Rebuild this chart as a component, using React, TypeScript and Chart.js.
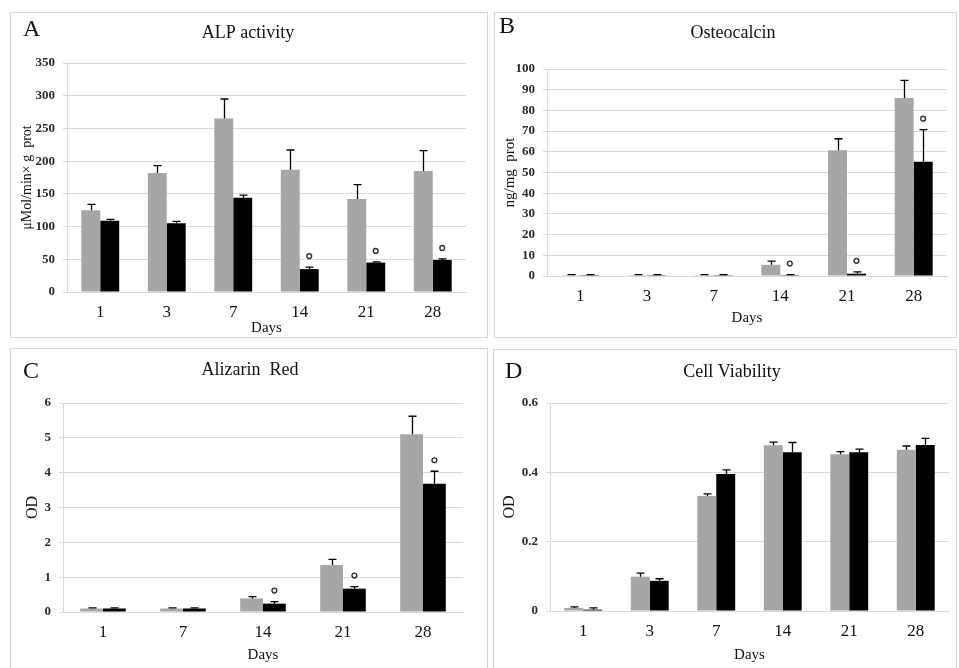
import React, { useEffect, useRef } from "react";
import { Chart, registerables } from "chart.js";
Chart.register(...registerables);

const SERIF = "'Liberation Serif', 'DejaVu Serif', serif";
const GRAY = "#a6a6a6";
const BLACK = "#000000";
const GRID = "#d9d9d9";
const TEXT = "#111111";
const TICK = "#2a2a2a";

// Panel A — ALP activity
const alpDays = ["1", "3", "7", "14", "21", "28"];
const alpControl = [125, 182, 265, 187, 142, 185];
const alpControlErr = [9, 11, 30, 30, 22, 31];
const alpTreated = [109, 105, 144, 35, 45, 49];
const alpTreatedErr = [2, 3, 4, 3, 1, 1.5];
const alpSig = [false, false, false, true, true, true];
const alpTicks = [0, 50, 100, 150, 200, 250, 300, 350];

// Panel B — Osteocalcin
const ocDays = ["1", "3", "7", "14", "21", "28"];
const ocControl = [0.4, 0.4, 0.4, 5.4, 60.7, 86];
const ocControlErr = [0.3, 0.3, 0.3, 1.8, 5.6, 8.5];
const ocTreated = [0.4, 0.4, 0.4, 0.4, 1.1, 55.2];
const ocTreatedErr = [0.3, 0.3, 0.3, 0.3, 0.9, 15.5];
const ocSig = [false, false, false, true, true, true];
const ocTicks = [0, 10, 20, 30, 40, 50, 60, 70, 80, 90, 100];

// Panel C — Alizarin Red
const arDays = ["1", "7", "14", "21", "28"];
const arControl = [0.1, 0.1, 0.39, 1.35, 5.1];
const arControlErr = [0.02, 0.02, 0.05, 0.16, 0.52];
const arTreated = [0.1, 0.1, 0.24, 0.67, 3.68];
const arTreatedErr = [0.02, 0.02, 0.06, 0.06, 0.36];
const arSig = [false, false, true, true, true];
const arTicks = [0, 1, 2, 3, 4, 5, 6];

// Panel D — Cell Viability
const cvDays = ["1", "3", "7", "14", "21", "28"];
const cvControl = [0.009, 0.099, 0.332, 0.478, 0.452, 0.465];
const cvControlErr = [0.003, 0.01, 0.006, 0.009, 0.008, 0.011];
const cvTreated = [0.004, 0.087, 0.395, 0.458, 0.458, 0.479];
const cvTreatedErr = [0.005, 0.006, 0.012, 0.028, 0.009, 0.019];
const cvSig = [false, false, false, false, false, false];
const cvTicks = [0, 0.2, 0.4, 0.6];

type Spec = {
  letter: string;
  title: string;
  yTitle: string;
  labels: string[];
  control: number[];
  controlErr: number[];
  treated: number[];
  treatedErr: number[];
  sig: boolean[];
  ticks: number[];
  box: { left: number; top: number; width: number; height: number };
  plotLeft: number;
  plotRightPad: number;
  plotTop: number;
  xHeight: number;
  letterPos: [number, number];
  titlePos: [number, number];
  yTitlePad: number;
  yTitleSize: number;
  daysPad: number;
};

const specs: Spec[] = [
  {
    letter: "A", title: "ALP activity", yTitle: "μMol/min× g  prot",
    labels: alpDays, control: alpControl, controlErr: alpControlErr,
    treated: alpTreated, treatedErr: alpTreatedErr, sig: alpSig, ticks: alpTicks,
    box: { left: 10, top: 12, width: 478, height: 326 },
    plotLeft: 56, plotRightPad: 21, plotTop: 50, xHeight: 45,
    letterPos: [12, 23], titlePos: [237, 20], yTitlePad: 8, yTitleSize: 14, daysPad: 0,
  },
  {
    letter: "B", title: "Osteocalcin", yTitle: "ng/mg  prot",
    labels: ocDays, control: ocControl, controlErr: ocControlErr,
    treated: ocTreated, treatedErr: ocTreatedErr, sig: ocSig, ticks: ocTicks,
    box: { left: 494, top: 12, width: 463, height: 326 },
    plotLeft: 52, plotRightPad: 9, plotTop: 56, xHeight: 61,
    letterPos: [4, 20], titlePos: [238, 20], yTitlePad: 6, yTitleSize: 15, daysPad: 10,
  },
  {
    letter: "C", title: "Alizarin  Red", yTitle: "OD",
    labels: arDays, control: arControl, controlErr: arControlErr,
    treated: arTreated, treatedErr: arTreatedErr, sig: arSig, ticks: arTicks,
    box: { left: 10, top: 348, width: 478, height: 330 },
    plotLeft: 52, plotRightPad: 24, plotTop: 54, xHeight: 65,
    letterPos: [12, 29], titlePos: [239, 21], yTitlePad: 12, yTitleSize: 16, daysPad: 13,
  },
  {
    letter: "D", title: "Cell Viability", yTitle: "OD",
    labels: cvDays, control: cvControl, controlErr: cvControlErr,
    treated: cvTreated, treatedErr: cvTreatedErr, sig: cvSig, ticks: cvTicks,
    box: { left: 493, top: 349, width: 464, height: 330 },
    plotLeft: 56, plotRightPad: 7, plotTop: 53, xHeight: 67,
    letterPos: [11, 28], titlePos: [238, 22], yTitlePad: 6, yTitleSize: 16, daysPad: 14,
  },
];

const annotate = {
  id: "annotate",
  afterDatasetsDraw(chart: any, _args: any, opts: any) {
    const ctx = chart.ctx;
    const ys = chart.scales.y;
    ctx.save();
    ctx.strokeStyle = "#000";
    ctx.lineWidth = 1.3;
    const errs: number[][] = opts.errs;
    errs.forEach((errArr, di) => {
      const meta = chart.getDatasetMeta(di);
      const vals = chart.data.datasets[di].data as number[];
      meta.data.forEach((el: any, i: number) => {
        const top = ys.getPixelForValue(vals[i] + errArr[i]);
        const x = Math.round(el.x) + 0.5;
        ctx.beginPath();
        ctx.moveTo(x, el.y);
        ctx.lineTo(x, top);
        ctx.moveTo(x - 4, top);
        ctx.lineTo(x + 4, top);
        ctx.stroke();
      });
    });
    const meta = chart.getDatasetMeta(1);
    const vals = chart.data.datasets[1].data as number[];
    ctx.strokeStyle = "#333";
    ctx.lineWidth = 1.4;
    (opts.sig as boolean[]).forEach((s, i) => {
      if (!s) return;
      const el = meta.data[i];
      const top = ys.getPixelForValue(vals[i] + errs[1][i]);
      ctx.beginPath();
      ctx.arc(el.x, top - 11, 2.4, 0, Math.PI * 2);
      ctx.stroke();
    });
    ctx.restore();
  },
  afterDraw(chart: any, _args: any, opts: any) {
    const ctx = chart.ctx;
    ctx.save();
    ctx.fillStyle = TEXT;
    ctx.font = `24px ${SERIF}`;
    ctx.textAlign = "left";
    ctx.textBaseline = "alphabetic";
    ctx.fillText(opts.letter, opts.letterPos[0], opts.letterPos[1]);
    ctx.font = `18px ${SERIF}`;
    ctx.textAlign = "center";
    ctx.textBaseline = "middle";
    ctx.fillText(opts.title, opts.titlePos[0], opts.titlePos[1]);
    ctx.restore();
  },
};

function Panel({ spec }: { spec: Spec }) {
  const ref = useRef<HTMLCanvasElement>(null);
  useEffect(() => {
    if (!ref.current) return;
    const chart = new Chart(ref.current, {
      type: "bar",
      data: {
        labels: spec.labels,
        datasets: [
          { data: spec.control, backgroundColor: GRAY, borderWidth: 0 },
          { data: spec.treated, backgroundColor: BLACK, borderWidth: 0 },
        ],
      },
      plugins: [annotate as any],
      options: {
        animation: false,
        responsive: false,
        maintainAspectRatio: false,
        layout: { padding: { top: spec.plotTop, right: spec.plotRightPad, left: 0, bottom: 0 } },
        datasets: { bar: { categoryPercentage: 0.57, barPercentage: 1 } },
        plugins: {
          legend: { display: false },
          tooltip: { enabled: false },
          annotate: {
            errs: [spec.controlErr, spec.treatedErr],
            sig: spec.sig,
            letter: spec.letter,
            letterPos: spec.letterPos,
            title: spec.title,
            titlePos: spec.titlePos,
          },
        } as any,
        scales: {
          x: {
            grid: { display: false, drawTicks: false, tickLength: 0 },
            border: { color: GRID, width: 1 },
            ticks: { font: { family: SERIF, size: 17 }, color: TEXT, padding: 10 },
            title: {
              display: true, text: "Days", color: TEXT,
              font: { family: SERIF, size: 15 },
              padding: { top: 0, bottom: spec.daysPad },
            },
            afterFit: (s: any) => { s.height = spec.xHeight; },
          },
          y: {
            min: spec.ticks[0],
            max: spec.ticks[spec.ticks.length - 1],
            afterBuildTicks: (s: any) => { s.ticks = spec.ticks.map((v) => ({ value: v })); },
            grid: { color: GRID, tickLength: 4, lineWidth: 1 },
            border: { color: GRID, width: 1 },
            ticks: {
              font: { family: SERIF, size: 13, weight: "bold" }, color: TICK, padding: 8,
              callback: (v: any) => String(Math.round(Number(v) * 100) / 100),
            },
            title: {
              display: true, text: spec.yTitle, color: TEXT,
              font: { family: SERIF, size: spec.yTitleSize },
              padding: { top: spec.yTitlePad, bottom: 0 },
            },
            afterFit: (s: any) => { s.width = spec.plotLeft; },
          },
        },
      } as any,
    });
    return () => chart.destroy();
  }, [spec]);
  const { left, top, width, height } = spec.box;
  return (
    <div
      style={{
        position: "absolute", left, top, width, height,
        boxSizing: "border-box", border: "1px solid #d6d6d6", background: "#fff",
      }}
    >
      <canvas ref={ref} width={width - 2} height={height - 2} style={{ display: "block" }} />
    </div>
  );
}

export default function App() {
  return (
    <div
      style={{
        position: "absolute", left: 0, top: 0, width: 959, height: 668,
        overflow: "hidden", background: "#fff",
      }}
    >
      {specs.map((s) => (
        <Panel key={s.letter} spec={s} />
      ))}
    </div>
  );
}
